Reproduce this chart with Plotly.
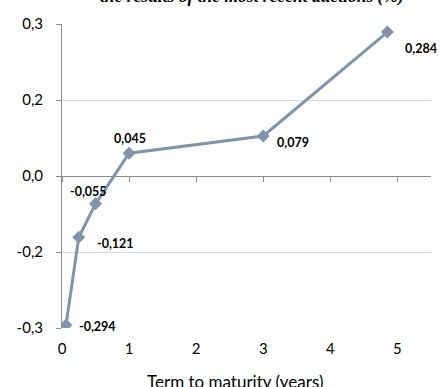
import plotly.graph_objects as go

# Data
maturity_years = [0.06, 0.25, 0.5, 1.0, 3.0, 4.85]
yield_pct = [-0.294, -0.121, -0.055, 0.045, 0.079, 0.284]
value_labels = ["-0,294", "-0,121", "-0,055", "0,045", "0,079", "0,284"]
y_tick_vals = [-0.3, -0.15, 0.0, 0.15, 0.3]
y_tick_text = ["-0,3", "-0,2", "0,0", "0,2", "0,3"]
x_tick_vals = [0, 1, 2, 3, 4, 5]

# label offsets (styling): (xanchor, xshift, yshift)
label_style = [
    ("left", 11, -2),
    ("left", 16, -6),
    ("center", -7, 12),
    ("center", 1, 15),
    ("left", 12, -7),
    ("left", 16, -16),
]

W, H = 440, 387
ml, mr, mt, mb = 62, 9, 24, 59
PH = H - mt - mb
PW = W - ml - mr

fig = go.Figure()
fig.add_trace(go.Scatter(
    x=maturity_years, y=yield_pct, mode="lines+markers",
    line=dict(color="#8194AE", width=3),
    marker=dict(symbol="diamond", size=10, color="#8194AE"),
    hoverinfo="skip", showlegend=False, xaxis="x", yaxis="y",
))
# invisible trace for the zero-line x axis
fig.add_trace(go.Scatter(x=[0], y=[0], mode="markers", marker=dict(opacity=0),
                         xaxis="x2", yaxis="y", showlegend=False, hoverinfo="skip"))

for xv, yv, lab, (xa, xs, ys) in zip(maturity_years, yield_pct, value_labels, label_style):
    fig.add_annotation(x=xv, y=yv, xref="x", yref="y", text=lab, showarrow=False,
                       xanchor=xa, yanchor="middle", xshift=xs, yshift=ys,
                       font=dict(family="Lato", size=12.5, color="#000000", weight="bold"))

fig.add_annotation(text="<b><i>the results of the most recent auctions (%)</i></b>",
                   xref="paper", yref="paper", x=(251.5 - ml) / PW,
                   y=1 + (mt + 4.4) / PH, xanchor="center", yanchor="middle",
                   showarrow=False, font=dict(family="Liberation Serif", size=17.5, color="#000"))
fig.add_annotation(text="Term to maturity (years)", xref="paper", yref="paper",
                   x=(235 - ml) / PW, y=-(369.5 - (H - mb)) / PH,
                   xanchor="center", yanchor="top", showarrow=False,
                   font=dict(family="Lato", size=17, color="#000"))

fig.update_layout(
    width=W, height=H, margin=dict(l=ml, r=mr, t=mt, b=mb),
    paper_bgcolor="white", plot_bgcolor="white",
    font=dict(family="Lato", color="#000"),
    xaxis=dict(range=[0, 5.5], tickvals=x_tick_vals, showgrid=False, zeroline=False,
               showline=False, ticks="", ticklabelstandoff=10,
               tickfont=dict(size=15, color="#000")),
    xaxis2=dict(range=[0, 5.5], overlaying="x", anchor="free", position=0.5,
                tickvals=x_tick_vals, showticklabels=False, showgrid=False, zeroline=False,
                showline=True, linecolor="#8C8C8C", linewidth=1,
                ticks="outside", ticklen=5, tickcolor="#8C8C8C"),
    yaxis=dict(range=[-0.3, 0.3], tickvals=y_tick_vals, ticktext=y_tick_text,
               showgrid=True, gridcolor="#D9D9D9", gridwidth=1, zeroline=False,
               showline=True, linecolor="#8C8C8C", linewidth=1,
               ticks="outside", ticklen=5, tickcolor="#8C8C8C", ticklabelstandoff=10,
               tickfont=dict(size=15, color="#000")),
)

fig.write_html("out.html", config={"displayModeBar": False},
               post_script="document.body.style.margin='0';")
